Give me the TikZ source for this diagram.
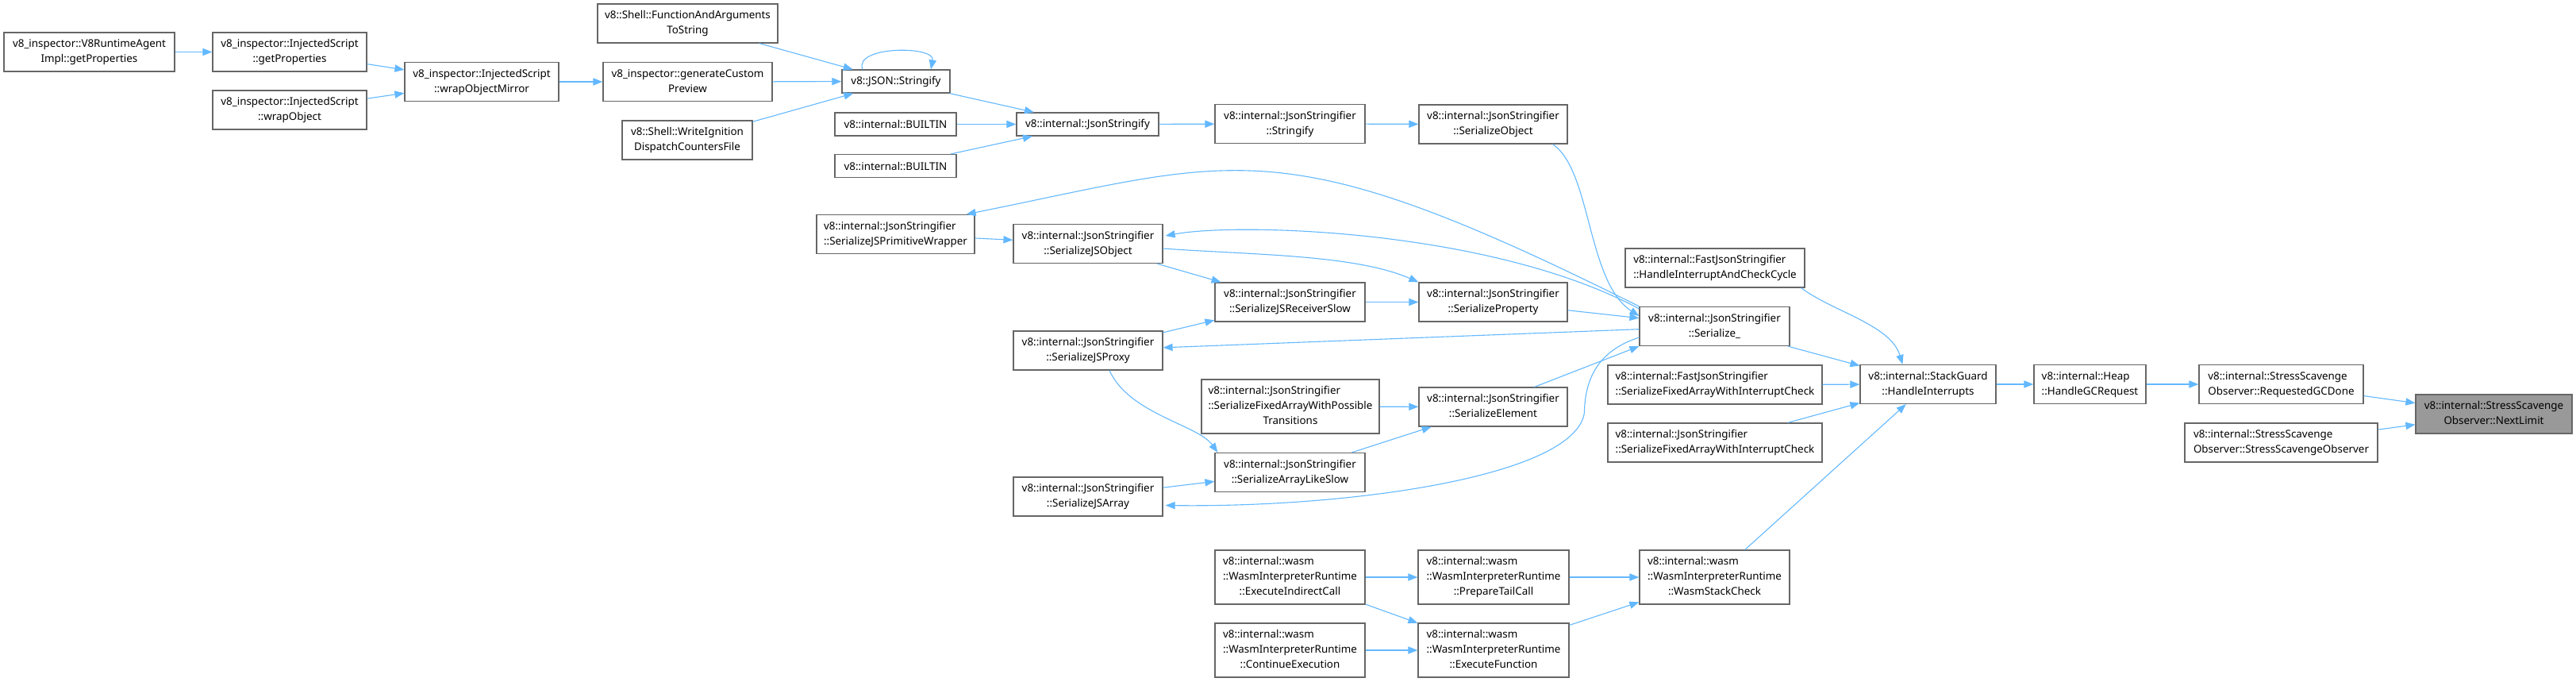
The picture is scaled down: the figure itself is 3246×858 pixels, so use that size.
\documentclass[tikz,border=0pt]{standalone}
\usepackage{fontspec}
\setmainfont{Noto Sans}
\usetikzlibrary{arrows.meta,calc}

\definecolor{edgeblue}{HTML}{63B8FF}
\definecolor{boxgray}{HTML}{666666}
\definecolor{focusgray}{HTML}{999999}

% lines left aligned, last line centred
\newcommand{\fnlab}[2]{\begin{tabular}{@{}l@{}}#1\\\multicolumn{1}{@{}c@{}}{#2}\end{tabular}}

\begin{document}
\begin{tikzpicture}[
    x=0.5pt, y=-0.5pt,
    >={Triangle[length=6pt,width=4.6pt]},
    fn/.style={draw=boxgray, fill=white, line width=0.6pt, inner sep=0pt,
        minimum height=24.5pt, font=\fontsize{6.7pt}{9.5pt}\selectfont},
    one/.style={minimum height=14.5pt},
    three/.style={minimum height=34pt},
    w/.style={minimum width=#1*0.5pt},
    call/.style={->, color=edgeblue, line width=0.55pt},
]
\useasboundingbox (0,0) rectangle (3246,858);

% inspector side
\node[fn, w=215] (agent) at (112.5,65.5) {\fnlab{v8\_inspector::V8RuntimeAgent}{Impl::getProperties}};
\node[fn, w=194] (getprops) at (365,65.5) {\fnlab{v8\_inspector::InjectedScript}{::getProperties}};
\node[fn, w=194] (wrapobj) at (365,138.5) {\fnlab{v8\_inspector::InjectedScript}{::wrapObject}};
\node[fn, w=194] (mirror) at (607,103) {\fnlab{v8\_inspector::InjectedScript}{::wrapObjectMirror}};
\node[fn, w=213] (preview) at (866.5,103) {\fnlab{v8\_inspector::generateCustom}{Preview}};
\node[fn, w=227] (fnargs) at (866.5,29.5) {\fnlab{v8::Shell::FunctionAndArguments}{ToString}};
\node[fn, w=164] (ignition) at (866,176.5) {\fnlab{v8::Shell::WriteIgnition}{DispatchCountersFile}};
\node[fn, one, w=136] (jsonstr) at (1129,102.5) {v8::JSON::Stringify};
\node[fn, one, w=153] (builtinA) at (1128.5,156.5) {v8::internal::BUILTIN};
\node[fn, one, w=153] (builtinB) at (1128.5,209) {v8::internal::BUILTIN};
\node[fn, one, w=179] (jsonstringify) at (1370.5,156.5) {v8::internal::JsonStringify};

% JsonStringifier
\node[fn, w=189] (stringify) at (1625.5,156) {\fnlab{v8::internal::JsonStringifier}{::Stringify}};
\node[fn, w=187] (serobj) at (1881.5,156.5) {\fnlab{v8::internal::JsonStringifier}{::SerializeObject}};
\node[fn, w=199] (primwrap) at (1128.5,295) {\fnlab{v8::internal::JsonStringifier}{::SerializeJSPrimitiveWrapper}};
\node[fn, w=188] (jsobject) at (1371,307) {\fnlab{v8::internal::JsonStringifier}{::SerializeJSObject}};
\node[fn, w=189] (recvslow) at (1625.5,380.5) {\fnlab{v8::internal::JsonStringifier}{::SerializeJSReceiverSlow}};
\node[fn, w=187] (serprop) at (1881.5,380.5) {\fnlab{v8::internal::JsonStringifier}{::SerializeProperty}};
\node[fn, w=226] (checkcycle) at (2161,337.5) {\fnlab{v8::internal::FastJsonStringifier}{::HandleInterruptAndCheckCycle}};
\node[fn, w=189] (serialize) at (2160.5,411) {\fnlab{v8::internal::JsonStringifier}{::Serialize\_}};
\node[fn, w=188] (jsproxy) at (1371,441.5) {\fnlab{v8::internal::JsonStringifier}{::SerializeJSProxy}};
\node[fn, three, w=224] (possible) at (1626,512) {\fnlab{v8::internal::JsonStringifier\\::SerializeFixedArrayWithPossible}{Transitions}};
\node[fn, w=187] (serelem) at (1881.5,512.5) {\fnlab{v8::internal::JsonStringifier}{::SerializeElement}};
\node[fn, w=270] (fastfixed) at (2161,484.5) {\fnlab{v8::internal::FastJsonStringifier}{::SerializeFixedArrayWithInterruptCheck}};
\node[fn, w=270] (jsonfixed) at (2161,557.5) {\fnlab{v8::internal::JsonStringifier}{::SerializeFixedArrayWithInterruptCheck}};
\node[fn, w=189] (arraylike) at (1625.5,595) {\fnlab{v8::internal::JsonStringifier}{::SerializeArrayLikeSlow}};
\node[fn, w=188] (jsarray) at (1371,625.5) {\fnlab{v8::internal::JsonStringifier}{::SerializeJSArray}};

% heap and observer
\node[fn, w=171] (interrupts) at (2429.5,484) {\fnlab{v8::internal::StackGuard}{::HandleInterrupts}};
\node[fn, w=141] (gcrequest) at (2633.5,484) {\fnlab{v8::internal::Heap}{::HandleGCRequest}};
\node[fn, w=207] (gcdone) at (2874.5,484) {\fnlab{v8::internal::StressScavenge}{Observer::RequestedGCDone}};
\node[fn, w=197, fill=focusgray] (nextlimit) at (3142.5,521.5) {\fnlab{v8::internal::StressScavenge}{Observer::NextLimit}};
\node[fn, w=243] (ctor) at (2874.5,557.5) {\fnlab{v8::internal::StressScavenge}{Observer::StressScavengeObserver}};

% wasm interpreter
\node[fn, three, w=189] (indirect) at (1625.5,727) {\fnlab{v8::internal::wasm\\::WasmInterpreterRuntime}{::ExecuteIndirectCall}};
\node[fn, three, w=190] (tailcall) at (1882,727) {\fnlab{v8::internal::wasm\\::WasmInterpreterRuntime}{::PrepareTailCall}};
\node[fn, three, w=189] (stackcheck) at (2160.5,727) {\fnlab{v8::internal::wasm\\::WasmInterpreterRuntime}{::WasmStackCheck}};
\node[fn, three, w=189] (continue) at (1625.5,819) {\fnlab{v8::internal::wasm\\::WasmInterpreterRuntime}{::ContinueExecution}};
\node[fn, three, w=190] (execfn) at (1882,819) {\fnlab{v8::internal::wasm\\::WasmInterpreterRuntime}{::ExecuteFunction}};

% straight calls
\foreach \a/\b in {agent/getprops, getprops/mirror, wrapobj/mirror, mirror/preview,
    fnargs/jsonstr, preview/jsonstr, ignition/jsonstr, jsonstr/jsonstringify,
    builtinA/jsonstringify, builtinB/jsonstringify, jsonstringify/stringify,
    stringify/serobj, primwrap/jsobject, jsobject/recvslow, recvslow/serprop,
    serprop/serialize, serialize/jsproxy, jsproxy/recvslow, possible/serelem,
    arraylike/serelem, jsarray/arraylike, serialize/interrupts, fastfixed/interrupts,
    jsonfixed/interrupts, stackcheck/interrupts, interrupts/gcrequest,
    gcrequest/gcdone, gcdone/nextlimit, ctor/nextlimit, indirect/tailcall,
    indirect/execfn, continue/execfn, tailcall/stackcheck, execfn/stackcheck} {
    \draw[call] (\a) -- (\b);
}

% self call
\draw[call] ($(jsonstr.north)+(-42,0)$) .. controls +(-12,-30) and +(6,-30) .. ($(jsonstr.north)+(44,0)$);

% curved calls
\draw[call] ($(serobj.south)+(75,0)$) .. controls +(49,33) and +(-66,-43) .. ($(serialize.west)+(0,-13)$);
\draw[call] (serialize.north west) .. controls +(-454,-227) and +(344,-69) .. ($(primwrap.north east)+(-11,0)$);
\draw[call] ($(serialize.north west)+(0,3)$) .. controls +(-186,-100) and +(92,-17) .. ($(jsobject.east)+(3,-10)$);
\draw[call] ($(jsobject.east)+(0,6)$) .. controls +(110,8) and +(-80,-35) .. (serprop.north west);
\draw[call] ($(jsproxy.south)+(27,0)$) .. controls +(25,55) and +(-25,-35) .. ($(arraylike.north west)+(4,0)$);
\draw[call] ($(serelem.north)+(52,0)$) -- (serialize.south west);
\draw[call] ($(serialize.west)+(0,14)$) .. controls +(-46,15) and +(1,-50) .. ++(-69,95)
    .. controls +(-12,80) and +(232,3) .. ($(jsarray.east)+(3,11)$);
\draw[call] ($(checkcycle.south east)+(-5,0)$) .. controls +(40,30) and +(-15,-50) .. ($(interrupts.north west)+(54,0)$);
\end{tikzpicture}
\end{document}
